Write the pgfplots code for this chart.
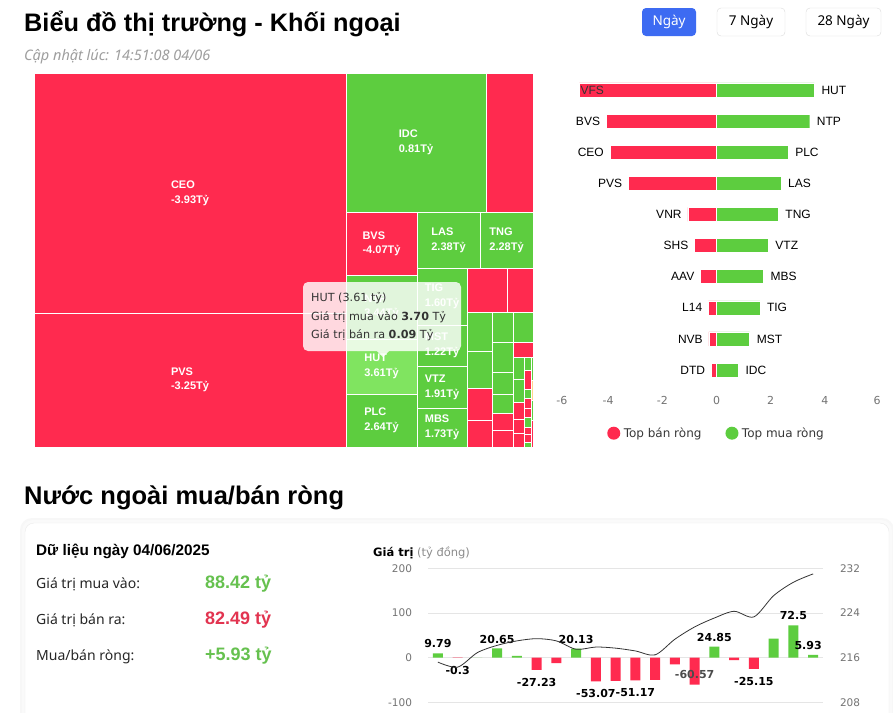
\documentclass[border=0pt]{standalone}
\usepackage{pgfplots}
\pgfplotsset{compat=1.18}
\usepackage{fontspec}
\setmainfont{Liberation Sans}
\newfontfamily\dv{DejaVu Sans}
\newfontfamily\ns{Noto Sans}
\definecolor{tred}{HTML}{FF2A4F}
\definecolor{tgreen}{HTML}{5DCD3F}
\definecolor{tlgreen}{HTML}{80E460}
\definecolor{tyel}{HTML}{FFD38A}
\definecolor{txtgreen}{HTML}{66C14F}
\definecolor{txtred}{HTML}{E23450}
\definecolor{btnblue}{HTML}{3D6BF2}
\newcommand\fs[2]{\fontsize{#1}{#2}\selectfont}
\newcommand\tile[5]{\addplot[fill=#1,draw=white,line width=0.9pt] coordinates {(#2,#3) (#4,#3) (#4,#5) (#2,#5)} --cycle;}
\newcommand\tlab[4]{\node[text=white,align=left,inner sep=0pt,font=\bfseries\fs{11}{14.5}] at (axis cs:#1,#2) {#3\\#4};}
\pgfplotsset{circlegend/.style={legend image code/.code={\fill[##1,draw=none] (0pt,0pt) circle (6.5pt);\path[fill=none,draw=none] (-6.5pt,-6.5pt) rectangle (8pt,6.5pt);}}}
\begin{document}
\begin{tikzpicture}
\path[use as bounding box] (0pt,0pt) rectangle (893pt,-712pt);
\fill[white] (0pt,0pt) rectangle (893pt,-712pt);
\begin{scope}[x=1pt,y=-1pt,every node/.style={inner sep=0pt}]
% header
\node[anchor=base west,font=\bfseries\fs{25.3}{25.3}] at (24,31.7) {Biểu đồ thị trường - Khối ngoại};
\node[anchor=base west,font=\ns\itshape\fs{14.5}{14.5},text=black!38] at (24,60) {Cập nhật lúc: 14:51:08 04/06};
\fill[btnblue,rounded corners=4pt] (642,8) rectangle (696,36);
\node[font=\ns\fs{13.5}{13.5},text=white] at (669,22) {Ngày};
\draw[black!14,fill=white,rounded corners=4pt] (717,8) rectangle (785,36);
\node[font=\ns\fs{13.5}{13.5}] at (751,22) {7 Ngày};
\draw[black!14,fill=white,rounded corners=4pt] (806,8) rectangle (881,36);
\node[font=\ns\fs{13.5}{13.5}] at (843.5,22) {28 Ngày};
% section 2
\node[anchor=base west,font=\bfseries\fs{25.5}{25.5}] at (24,504) {Nước ngoài mua/bán ròng};
\fill[black!3,rounded corners=12pt] (20,518) rectangle (894,760);
\fill[black!2,rounded corners=11pt] (22,520) rectangle (892,760);
\fill[white,rounded corners=9pt] (25,523) rectangle (889,760);
\draw[black!8,rounded corners=9pt] (25,523) rectangle (889,760);
\node[anchor=base west,font=\bfseries\fs{15.3}{15.3}] at (36,555) {Dữ liệu ngày 04/06/2025};
\node[anchor=base west,font=\ns\fs{14}{14},text=black!85] at (36,588.3) {Giá trị mua vào:};
\node[anchor=base west,font=\bfseries\fs{18}{18},text=txtgreen] at (205,588.3) {88.42 tỷ};
\node[anchor=base west,font=\ns\fs{14}{14},text=black!85] at (36,624) {Giá trị bán ra:};
\node[anchor=base west,font=\bfseries\fs{18}{18},text=txtred] at (205,624) {82.49 tỷ};
\node[anchor=base west,font=\ns\fs{14}{14},text=black!85] at (36,660) {Mua/bán ròng:};
\node[anchor=base west,font=\bfseries\fs{18}{18},text=txtgreen] at (205,660) {+5.93 tỷ};
\node[anchor=base west,font=\dv\fs{11.5}{11.5}] at (373,556) {\textbf{Giá trị} \textcolor{black!45}{(tỷ đồng)}};
\end{scope}

% ---------------- treemap
\begin{axis}[at={(34pt,-73pt)},anchor=north west,scale only axis,width=499pt,height=374pt,
  xmin=34,xmax=533,ymin=73,ymax=447,y dir=reverse,hide axis,clip=false]
\tile{tred}{34}{73}{346}{313}
\tile{tred}{34}{313}{346}{447}
\tile{tgreen}{346}{73}{486}{212}
\tile{tred}{486}{73}{533}{212}
\tile{tred}{346}{212}{417}{275}
\tile{tgreen}{417}{212}{480}{268}
\tile{tgreen}{480}{212}{533}{268}
\tile{tgreen}{346}{275}{417}{339}
\tile{tlgreen}{346}{339}{417}{394}
\tile{tgreen}{346}{394}{417}{447}
\tile{tgreen}{417}{268}{467}{325}
\tile{tgreen}{417}{325}{467}{366}
\tile{tgreen}{417}{366}{467}{408}
\tile{tgreen}{417}{408}{467}{447}
\tile{tred}{467}{268}{507}{312}
\tile{tred}{507}{268}{533}{312}
\tile{tgreen}{467}{312}{492}{351}
\tile{tgreen}{467}{351}{492}{388}
\tile{tred}{467}{388}{492}{420}
\tile{tred}{467}{420}{492}{447}
\tile{tgreen}{492}{312}{513}{342}
\tile{tgreen}{492}{342}{513}{372}
\tile{tgreen}{492}{372}{513}{394}
\tile{tgreen}{492}{394}{513}{413}
\tile{tred}{492}{413}{513}{430}
\tile{tred}{492}{430}{513}{447}
\tile{tgreen}{513}{312}{533}{342}
\tile{tred}{513}{342}{533}{357}
\tile{tgreen}{513}{357}{524}{379}
\tile{tgreen}{513}{379}{524}{402}
\tile{tred}{513}{402}{524}{419}
\tile{tred}{513}{419}{524}{433}
\tile{tred}{513}{433}{524}{447}
\tile{tgreen}{524}{357}{531}{370}
\tile{tred}{524}{370}{531}{389}
\tile{tgreen}{524}{389}{531}{398}
\tile{tred}{524}{398}{531}{408}
\tile{tred}{524}{408}{531}{417}
\tile{tgreen}{524}{417}{531}{427}
\tile{tred}{524}{427}{531}{434}
\tile{tred}{524}{434}{531}{442}
\tile{tgreen}{524}{442}{531}{447}
\tile{tgreen}{531}{357}{533}{380}
\tile{tyel}{531}{380}{533}{400}
\tile{tgreen}{531}{400}{533}{420}
\tile{tred}{531}{420}{533}{447}
\tlab{190}{193.5}{CEO}{-3.93Tỷ}
\tlab{190}{380}{PVS}{-3.25Tỷ}
\tlab{416}{142.5}{IDC}{0.81Tỷ}
\tlab{381.5}{244}{BVS}{-4.07Tỷ}
\tlab{448.5}{240.5}{LAS}{2.38Tỷ}
\tlab{506.5}{240.5}{TNG}{2.28Tỷ}
\tlab{381.5}{307}{NTP}{3.44Tỷ}
\tlab{381.5}{366.5}{HUT}{3.61Tỷ}
\tlab{381.5}{420.5}{PLC}{2.64Tỷ}
\tlab{442}{296.5}{TIG}{1.60Tỷ}
\tlab{442}{345.5}{MST}{1.22Tỷ}
\tlab{442}{387.5}{VTZ}{1.91Tỷ}
\tlab{442}{427.5}{MBS}{1.73Tỷ}
% tooltip
\fill[white,opacity=0.82,rounded corners=5pt] (axis cs:303,282) rectangle (axis cs:461,351);
\fill[white,opacity=0.82] (axis cs:377,351) -- (axis cs:383,357) -- (axis cs:389,351) -- cycle;
\node[anchor=base west,inner sep=0pt,font=\dv\fs{11.2}{11.2},text=black!80] at (axis cs:311,301) {HUT (3.61 tỷ)};
\node[anchor=base west,inner sep=0pt,font=\dv\fs{11.2}{11.2},text=black!80] at (axis cs:311,320) {Giá trị mua vào \textbf{3.70} Tỷ};
\node[anchor=base west,inner sep=0pt,font=\dv\fs{11.2}{11.2},text=black!80] at (axis cs:311,338) {Giá trị bán ra \textbf{0.09} Tỷ};
\end{axis}

% ---------------- top bars
\begin{axis}[at={(553.9pt,-71.33pt)},anchor=north west,scale only axis,width=325.2pt,height=317.33pt,
  xmin=-6,xmax=6,ymin=-0.6,ymax=9.6,axis line style={draw=none},ytick=\empty,
  xtick={-6,-4,-2,0,2,4,6},
  xticklabels={\hspace*{16pt}-6,-4,-2,0,2,4,6\hspace*{4pt}},
  major tick length=0pt,
  xticklabel style={font=\dv\fs{11}{11},text=black!55,yshift=-4pt},
  xbar,bar width=14pt,bar shift=0pt,clip=false,
  legend style={at={(axis description cs:0.5,-0.1403)},anchor=center,draw=none,fill=none,
    legend columns=2,font=\dv\fs{12}{12},text=black!78,
    /tikz/every even column/.append style={column sep=22pt}},
  legend cell align=left]
\addplot[fill=tred,draw=white,line width=0.4pt,circlegend] coordinates {
(-5.06,9) (-4.07,8) (-3.93,7) (-3.25,6) (-1.06,5) (-0.81,4) (-0.59,3) (-0.30,2) (-0.28,1) (-0.19,0)};
\addlegendentry{Top bán ròng}
\addplot[fill=tgreen,draw=white,line width=0.4pt,circlegend] coordinates {
(3.61,9) (3.44,8) (2.64,7) (2.38,6) (2.28,5) (1.91,4) (1.73,3) (1.60,2) (1.22,1) (0.81,0)};
\addlegendentry{Top mua ròng}
\begin{scope}[every node/.style={inner sep=0pt,font=\fs{12}{12}}]
\node[anchor=west,text=black!80] at (axis cs:-5.06,9) {\hspace{1pt}VFS};
\node[anchor=east,xshift=-6pt] at (axis cs:-4.07,8) {BVS};
\node[anchor=east,xshift=-6pt] at (axis cs:-3.93,7) {CEO};
\node[anchor=east,xshift=-6pt] at (axis cs:-3.25,6) {PVS};
\node[anchor=east,xshift=-6pt] at (axis cs:-1.06,5) {VNR};
\node[anchor=east,xshift=-6pt] at (axis cs:-0.81,4) {SHS};
\node[anchor=east,xshift=-6pt] at (axis cs:-0.59,3) {AAV};
\node[anchor=east,xshift=-6pt] at (axis cs:-0.30,2) {L14};
\node[anchor=east,xshift=-6pt] at (axis cs:-0.28,1) {NVB};
\node[anchor=east,xshift=-6pt] at (axis cs:-0.19,0) {DTD};
\node[anchor=west,xshift=7pt] at (axis cs:3.61,9) {HUT};
\node[anchor=west,xshift=7pt] at (axis cs:3.44,8) {NTP};
\node[anchor=west,xshift=7pt] at (axis cs:2.64,7) {PLC};
\node[anchor=west,xshift=7pt] at (axis cs:2.38,6) {LAS};
\node[anchor=west,xshift=7pt] at (axis cs:2.28,5) {TNG};
\node[anchor=west,xshift=7pt] at (axis cs:1.91,4) {VTZ};
\node[anchor=west,xshift=7pt] at (axis cs:1.73,3) {MBS};
\node[anchor=west,xshift=7pt] at (axis cs:1.60,2) {TIG};
\node[anchor=west,xshift=7pt] at (axis cs:1.22,1) {MST};
\node[anchor=west,xshift=7pt] at (axis cs:0.81,0) {IDC};
\end{scope}
\end{axis}

% ---------------- bottom chart: bars
\begin{axis}[at={(428pt,-568.3pt)},anchor=north west,scale only axis,width=395pt,height=134pt,
  xmin=-0.5,xmax=19.5,ymin=-100,ymax=200,ytick={-100,0,100,200},xtick=\empty,
  ymajorgrids,grid style={draw=black!10,line width=0.8pt},axis line style={draw=none},
  major tick length=0pt,
  yticklabel style={font=\dv\fs{10.5}{10.5},text=black!55,xshift=-12.5pt},
  /pgf/number format/assume math mode=true,
  ybar,bar width=10pt,bar shift=0pt,clip=false]
\addplot[fill=tgreen,draw=none] coordinates {
(0,9.79) (2,0) (3,20.65) (4,4.0) (7,20.13) (14,24.85) (17,42.6) (18,72.5) (19,5.93)};
\addplot[fill=tred,draw=none] coordinates {
(1,-0.3) (5,-27.23) (6,-12.0) (8,-53.07) (9,-52.0) (10,-51.17) (11,-49.6) (12,-15.0) (13,-60.57) (15,-5.5) (16,-25.15)};
\begin{scope}[every node/.style={font=\dv\bfseries\fs{11}{11},inner sep=0pt}]
\node[anchor=south,yshift=5pt] at (axis cs:0,9.79) {9.79};
\node[anchor=north,yshift=-8pt] at (axis cs:1,-0.3) {-0.3};
\node[anchor=south,yshift=5pt] at (axis cs:3,20.65) {20.65};
\node[anchor=north,yshift=-8pt] at (axis cs:5,-27.23) {-27.23};
\node[anchor=south,yshift=5pt] at (axis cs:7,20.13) {20.13};
\node[anchor=north,yshift=-8pt] at (axis cs:8,-53.07) {-53.07};
\node[anchor=north,yshift=-8pt] at (axis cs:10,-51.17) {-51.17};
\node[text=black!70] at (axis cs:13,-37.7) {-60.57};
\node[anchor=south,yshift=5pt] at (axis cs:14,24.85) {24.85};
\node[anchor=north,yshift=-8pt] at (axis cs:16,-25.15) {-25.15};
\node[anchor=south,yshift=5pt] at (axis cs:18,72.5) {72.5};
\node[anchor=south,yshift=5pt,xshift=-5pt] at (axis cs:19,5.93) {5.93};
\end{scope}
\end{axis}

% ---------------- bottom chart: line (right axis)
\begin{axis}[at={(428pt,-568.3pt)},anchor=north west,scale only axis,width=395pt,height=134pt,
  xmin=-0.5,xmax=19.5,ymin=208,ymax=232,ytick={208,216,224,232},xtick=\empty,
  axis y line*=right,axis x line=none,axis line style={draw=none},major tick length=0pt,
  yticklabel style={font=\dv\fs{10.5}{10.5},text=black!55,xshift=13.5pt},
  /pgf/number format/assume math mode=true,clip=false]
\addplot[smooth,black!80,line width=0.8pt,no marks] coordinates {
(0,215.2) (1,214.3) (2,216.9) (3,218.2) (4,219.0) (5,219.4) (6,219.0) (7,217.5) (8,217.9) (9,217.7)
(10,217.2) (11,216.5) (12,219.3) (13,221.5) (14,223.1) (15,224.3) (16,223.3) (17,227.1) (18,229.5) (19,231.0)};
\end{axis}
\end{tikzpicture}
\end{document}
